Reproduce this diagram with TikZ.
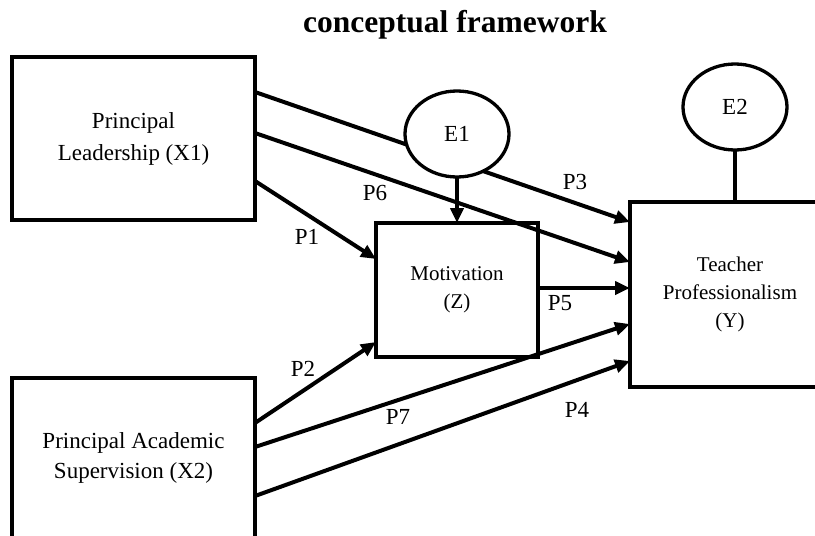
\documentclass[tikz,border=0pt]{standalone}
\usepackage{fontspec}
\setmainfont{Liberation Serif}
\usetikzlibrary{arrows.meta,shapes.geometric}
\tikzset{box/.style={draw, line width=3.3pt, outer sep=0pt, inner sep=0pt, align=center}}
\tikzset{errnode/.style={draw, ellipse, line width=3.3pt, fill=white, outer sep=0pt, inner sep=0pt, minimum width=104pt, minimum height=86pt, font=\fontsize{23}{28}\selectfont}}
\tikzset{pline/.style={line width=4pt, -{Triangle[length=15pt,width=13pt]}}}
\tikzset{plabel/.style={inner sep=0pt, font=\fontsize{23}{28}\selectfont}}

\begin{document}
\begin{tikzpicture}[x=1pt,y=-1pt]
    \useasboundingbox (0,0) rectangle (815,536);
    \node[font=\bfseries\fontsize{31.5}{36}\selectfont] (title) at (455,25) {conceptual framework};

    % variables
    \node[box, minimum width=243pt, minimum height=163pt, font=\fontsize{23}{32}\selectfont] (X1) at (133.5,138.5) {Principal\\Leadership (X1)};
    \node[box, minimum width=243pt, minimum height=160pt, font=\fontsize{23}{30}\selectfont] (X2) at (133.5,458) {Principal Academic\\Supervision (X2)};
    \node[box, minimum width=162pt, minimum height=134pt, font=\fontsize{21}{28}\selectfont] (Z) at (457,290) {Motivation\\(Z)};
    \node[box, minimum width=200pt, minimum height=185pt, font=\fontsize{21}{28}\selectfont] (Y) at (730,294.5) {Teacher\\Professionalism\\(Y)};

    % paths
    \draw[pline] ([yshift=46.5pt]X1.east) -- ([yshift=72.5pt]Y.west);
    \draw[pline] ([yshift=5.5pt]X1.east) -- ([yshift=32.5pt]Y.west);
    \draw[pline] ([yshift=-42.5pt]X1.east) -- ([yshift=31pt]Z.west);
    \draw[pline] ([yshift=35pt]X2.east) -- ([yshift=-52pt]Z.west);
    \draw[pline] ([yshift=11pt]X2.east) -- ([yshift=-29.5pt]Y.west);
    \draw[pline] ([yshift=-38pt]X2.east) -- ([yshift=-66.5pt]Y.west);
    \draw[pline] ([yshift=2pt]Z.east) -- ([yshift=2pt]Z.east -| Y.west);

    % errors
    \node[errnode] (E1) at (457,134) {E1};
    \node[errnode] (E2) at (735,107) {E2};
    \draw[pline] (E1.south) -- (E1.south |- Z.north);
    \draw[line width=4pt] (E2.south) -- (E2.south |- Y.north);

    % labels
    \node[plabel] (p1) at (307,237) {P1};
    \node[plabel] (p2) at (303,369) {P2};
    \node[plabel] (p3) at (575,182) {P3};
    \node[plabel] (p4) at (577,410) {P4};
    \node[plabel] (p5) at (560,303) {P5};
    \node[plabel] (p6) at (375,193) {P6};
    \node[plabel] (p7) at (398,417) {P7};
\end{tikzpicture}
\end{document}
